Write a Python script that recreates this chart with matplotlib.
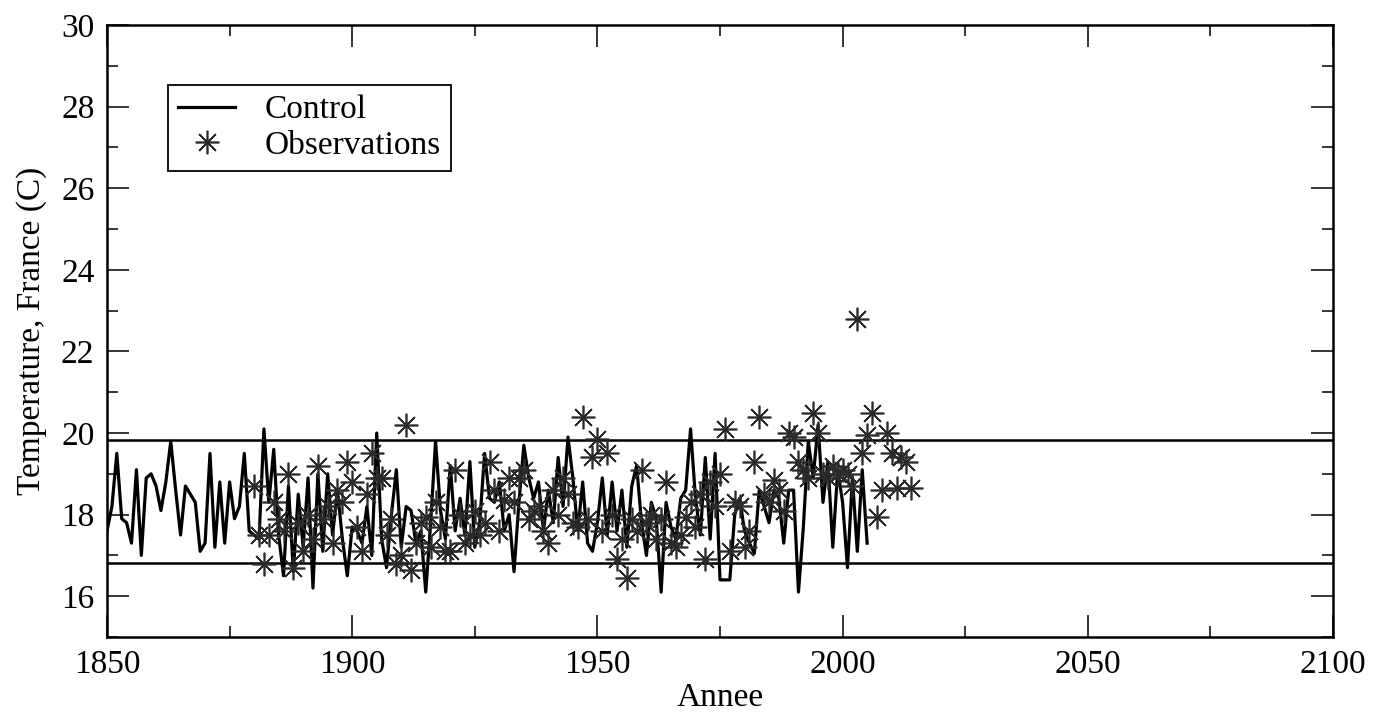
import numpy as np
import matplotlib
matplotlib.use("Agg")
import matplotlib.pyplot as plt
from matplotlib.ticker import MultipleLocator

# ---- data ----
control_start = 1850
control_temp = [
    17.6, 18.2, 19.5, 17.9, 17.8, 17.3, 19.1, 17.0, 18.9, 19.0,   # 1850-1859
    18.7, 18.1, 18.8, 19.8, 18.6, 17.5, 18.7, 18.5, 18.3, 17.1,   # 1860-1869
    17.3, 19.5, 17.2, 18.8, 17.3, 18.8, 17.9, 18.2, 19.5, 17.6,   # 1870-1879
    17.5, 17.4, 20.1, 18.3, 19.6, 17.5, 16.5, 18.7, 16.6, 18.5,   # 1880-1889
    17.2, 18.9, 16.2, 19.0, 17.1, 19.0, 17.5, 18.6, 17.4, 16.5,   # 1890-1899
    17.7, 17.6, 17.3, 18.2, 17.0, 20.0, 17.4, 16.7, 18.0, 19.1,   # 1900-1909
    17.2, 18.2, 18.1, 17.3, 17.6, 16.1, 17.8, 19.8, 18.1, 17.4,   # 1910-1919
    19.2, 17.6, 18.4, 17.5, 19.3, 17.2, 17.8, 19.5, 18.4, 18.3,   # 1920-1929
    18.8, 17.6, 18.0, 16.6, 18.3, 19.7, 18.9, 18.4, 18.8, 17.6,   # 1930-1939
    18.6, 17.8, 19.4, 18.2, 19.9, 18.9, 17.6, 18.8, 17.3, 17.1,   # 1940-1949
    17.8, 18.9, 17.5, 18.8, 17.6, 18.6, 17.2, 18.7, 19.2, 17.8,   # 1950-1959
    17.0, 18.3, 17.9, 16.1, 18.3, 17.7, 17.4, 18.4, 18.6, 20.1,   # 1960-1969
    18.4, 17.5, 19.4, 17.4, 19.5, 16.4, 16.4, 16.4, 18.0, 18.4,   # 1970-1979
    17.6, 17.3, 17.05, 18.6, 18.2, 17.8, 18.6, 18.4, 17.3, 18.6,  # 1980-1989
    18.6, 16.1, 17.7, 19.8, 18.9, 20.2, 18.3, 19.3, 17.2, 19.1,   # 1990-1999
    18.3, 16.7, 18.9, 17.1, 19.1, 17.3,                           # 2000-2005
]

obs_start = 1880
obs_temp = [
    18.7, 17.5, 16.8, 17.5, 18.3, 17.9, 17.6, 19.0, 16.7, 17.8,   # 1880-1889
    17.1, 18.0, 17.4, 19.2, 17.9, 18.2, 17.3, 18.6, 18.3, 19.3,   # 1890-1899
    18.8, 17.7, 17.1, 18.5, 19.5, 18.9, 18.9, 17.5, 17.9, 16.8,   # 1900-1909
    17.0, 20.2, 16.65, 17.3, 17.8, 17.95, 17.2, 18.3, 17.7, 17.1, # 1910-1919
    17.1, 19.1, 18.0, 17.3, 17.5, 18.1, 17.5, 17.8, 19.3, 18.6,   # 1920-1929
    17.6, 18.35, 18.9, 18.3, 18.9, 19.1, 17.9, 18.1, 18.2, 17.6,  # 1930-1939
    17.3, 18.6, 18.0, 18.9, 18.5, 17.8, 17.7, 20.4, 17.9, 19.4,   # 1940-1949
    19.85, 17.6, 19.5, 18.0, 16.9, 17.4, 16.45, 17.9, 17.6, 19.1, # 1950-1959
    17.8, 18.0, 17.4, 17.9, 18.8, 17.3, 17.2, 17.5, 17.95, 18.3,  # 1960-1969
    17.7, 18.5, 16.9, 18.8, 18.2, 19.0, 20.1, 17.1, 18.3, 18.2,   # 1970-1979
    17.2, 17.6, 19.3, 20.4, 18.5, 18.3, 18.85, 18.6, 18.1, 20.0,  # 1980-1989
    19.9, 19.3, 19.1, 18.9, 20.5, 20.0, 19.0, 18.9, 19.2, 19.0,   # 1990-1999
    19.1, 19.0, 18.7, 22.8, 19.5, 19.95, 20.5, 17.95, 18.6, 20.0, # 2000-2009
    19.5, 18.65, 19.4, 19.3, 18.65,                               # 2010-2014
]

band_upper = 19.82
band_lower = 16.81

x_ticks = [1850, 1900, 1950, 2000, 2050, 2100]
y_ticks = [16, 18, 20, 22, 24, 26, 28, 30]

control_years = np.arange(control_start, control_start + len(control_temp))
obs_years = np.arange(obs_start, obs_start + len(obs_temp))

# ---- figure ----
plt.rcParams['font.family'] = ['Liberation Serif', 'DejaVu Serif']
fig = plt.figure(figsize=(13.77, 7.18), dpi=100)
ax = fig.add_axes([107 / 1377, 1 - 637 / 718, 1226 / 1377, 612 / 718])

ax.axhline(band_upper, color='black', lw=1.8, zorder=2)
ax.axhline(band_lower, color='black', lw=1.8, zorder=2)

ax.plot(control_years, control_temp, color='black', lw=2.3, label='Control', zorder=3)
ax.plot(obs_years, obs_temp, linestyle='none', marker=(8, 2, 0), markersize=17,
        markeredgewidth=1.2, color='#2a2a2a', label='Observations', zorder=4)

ax.set_xlim(1850, 2100)
ax.set_ylim(15, 30)
ax.set_xticks(x_ticks)
ax.set_yticks(y_ticks)
ax.xaxis.set_minor_locator(MultipleLocator(25))
ax.yaxis.set_minor_locator(MultipleLocator(1))
ax.tick_params(which='both', direction='in', top=True, right=True,
               labelsize=24, width=1.1)
ax.tick_params(which='major', length=16, pad=9)
ax.tick_params(which='minor', length=8)
for s in ax.spines.values():
    s.set_linewidth(1.8)

ax.set_xlabel('Annee', fontsize=24, labelpad=2)
ax.set_ylabel('Temperature, France (C)', fontsize=24, labelpad=10)

leg = ax.legend(loc='upper left', bbox_to_anchor=(0.05, 0.902), borderaxespad=0,
                fontsize=24, frameon=True, fancybox=False, edgecolor='black',
                framealpha=1, handlelength=1.7, handletextpad=0.9,
                borderpad=0.3, labelspacing=0.15)
leg.get_frame().set_linewidth(1.3)

fig.savefig('out.png', dpi=100)
